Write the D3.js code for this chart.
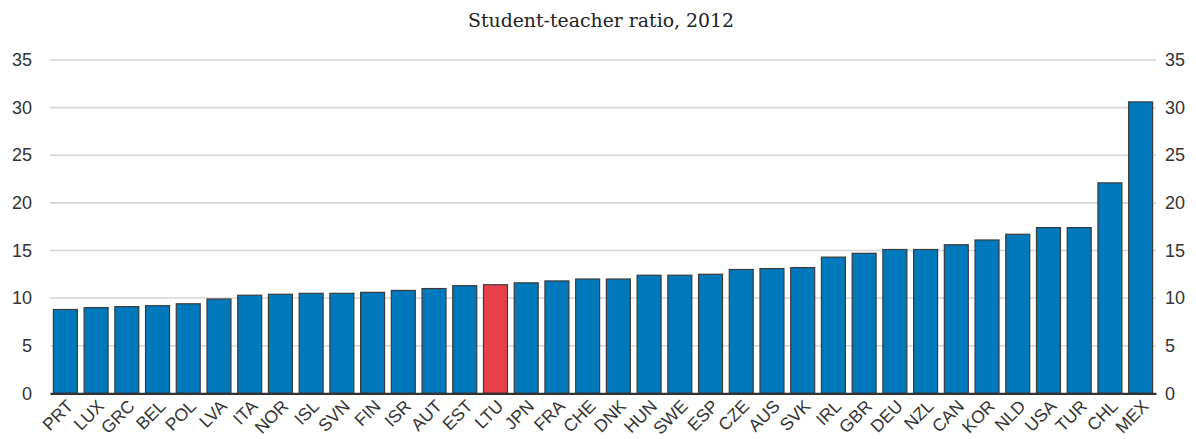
<!DOCTYPE html>
<html>
<head>
<meta charset="utf-8">
<script src="https://cdn.jsdelivr.net/npm/d3@7"></script>
<style>
  html, body { margin: 0; padding: 0; background: #fff; }
  svg { display: block; }
</style>
</head>
<body>
<svg id="chart" width="1196" height="439"></svg>
<script>
// Student-teacher ratio by country, 2012
const countries = ["PRT","LUX","GRC","BEL","POL","LVA","ITA","NOR","ISL","SVN","FIN","ISR","AUT","EST","LTU","JPN","FRA","CHE","DNK","HUN","SWE","ESP","CZE","AUS","SVK","IRL","GBR","DEU","NZL","CAN","KOR","NLD","USA","TUR","CHL","MEX"];
const ratios = [8.8,9.0,9.1,9.2,9.4,9.9,10.3,10.4,10.5,10.5,10.6,10.8,11.0,11.3,11.4,11.6,11.8,12.0,12.0,12.4,12.4,12.5,13.0,13.1,13.2,14.3,14.7,15.1,15.1,15.6,16.1,16.7,17.4,17.4,22.1,30.6];
const highlighted = ["LTU"];
const yTicks = [0,5,10,15,20,25,30,35];
const subtitle = "Student-teacher ratio, 2012";

const svg = d3.select("#chart");
const plotLeft = 50, plotRight = 1156, plotTop = 60, plotBottom = 393.3;
const sans = "'Liberation Sans', Arial, sans-serif";

const x = d3.scaleBand().domain(countries).range([plotLeft, plotRight]).paddingInner(0.22).paddingOuter(0.11);
const y = d3.scaleLinear().domain([0, 35]).range([plotBottom, plotTop]);

// subtitle
svg.append("text")
  .attr("x", 601).attr("y", 27)
  .attr("text-anchor", "middle")
  .attr("font-family", "'DejaVu Serif', serif")
  .attr("font-size", 18.5)
  .attr("textLength", 266)
  .attr("lengthAdjust", "spacingAndGlyphs")
  .attr("fill", "#222")
  .text(subtitle);

// gridlines
svg.append("g")
  .selectAll("line")
  .data(yTicks.filter(d => d > 0))
  .join("line")
  .attr("x1", plotLeft).attr("x2", plotRight)
  .attr("y1", d => y(d)).attr("y2", d => y(d))
  .attr("stroke", "#d6d6d6")
  .attr("stroke-width", 1.6);

// y axes on both sides
const axisL = svg.append("g").attr("transform", `translate(${plotLeft},0)`)
  .call(d3.axisLeft(y).tickValues(yTicks).tickSize(0).tickPadding(18));
const axisR = svg.append("g").attr("transform", `translate(${plotRight},0)`)
  .call(d3.axisRight(y).tickValues(yTicks).tickSize(0).tickPadding(9));
[axisL, axisR].forEach(g => {
  g.select(".domain").remove();
  g.selectAll("text")
    .attr("font-family", sans)
    .attr("font-size", 18)
    .attr("fill", "#333");
});

// bars
svg.append("g")
  .selectAll("rect")
  .data(countries.map((c, i) => ({ c, v: ratios[i] })))
  .join("rect")
  .attr("x", d => x(d.c))
  .attr("width", x.bandwidth())
  .attr("y", d => y(d.v))
  .attr("height", d => y(0) - y(d.v))
  .attr("fill", d => highlighted.includes(d.c) ? "#e8404a" : "#0078bc")
  .attr("stroke", "#3a3a3a")
  .attr("stroke-width", 1.2);

// x axis
const axisB = svg.append("g").attr("transform", `translate(0,${plotBottom})`)
  .call(d3.axisBottom(x).tickSize(0).tickSizeOuter(0));
axisB.select(".domain").attr("stroke", "#333").attr("stroke-width", 2.2);
axisB.selectAll("text")
  .attr("font-family", sans)
  .attr("font-size", 17.5)
  .attr("fill", "#333")
  .attr("text-anchor", "end")
  .attr("dy", null)
  .attr("y", 0)
  .attr("transform", "translate(9,14) rotate(-45)");
</script>
</body>
</html>
